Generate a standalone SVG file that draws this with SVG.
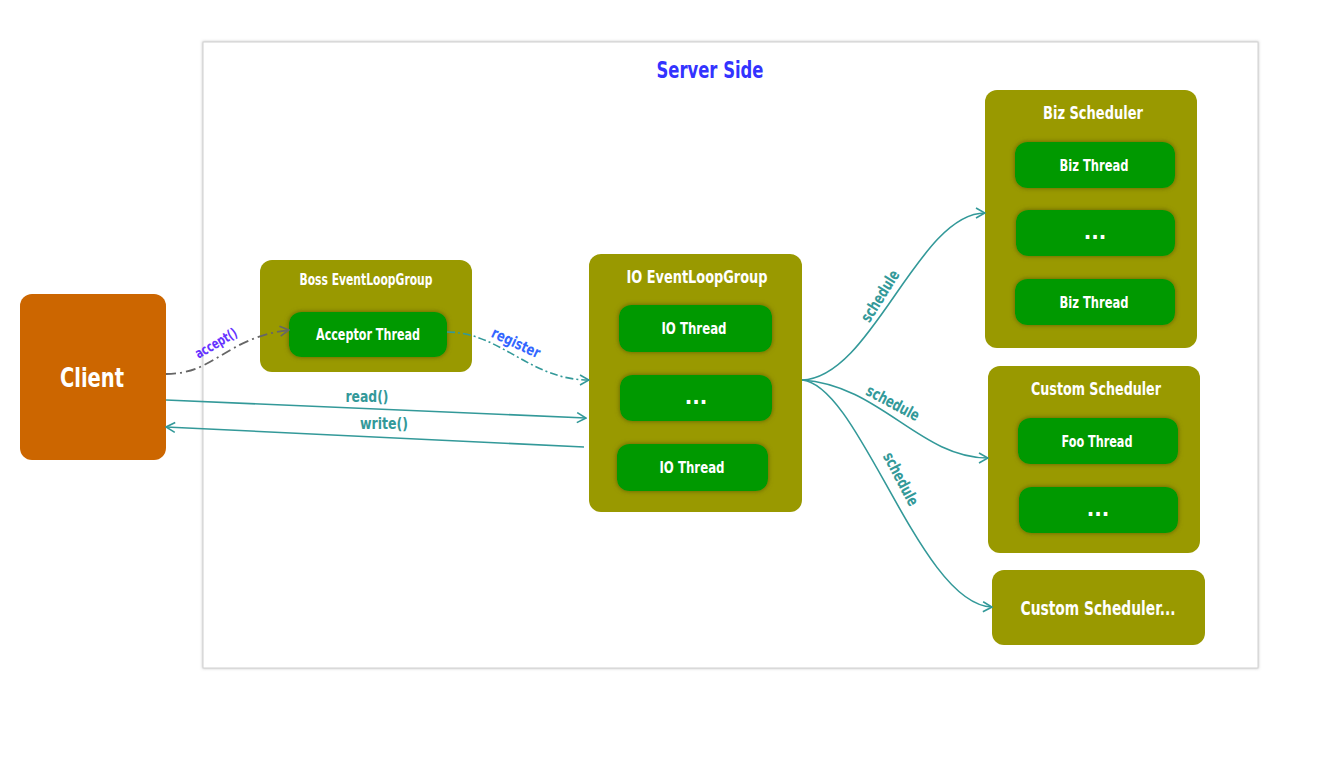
<svg xmlns="http://www.w3.org/2000/svg" width="1340" height="779" viewBox="0 0 1340 779">
<defs>
<style>
text{font-family:"DejaVu Sans Condensed","Liberation Sans",sans-serif;font-weight:bold;text-anchor:middle;dominant-baseline:central}
.grp{fill:#999900}
.thr{fill:#009900;filter:url(#inner)}
.wt{fill:#ffffff}
.t14{font-size:15px}
.t15{font-size:16px}
.t16{font-size:17px}
.lbl{fill:#339999;font-size:16px}
.con{fill:none;stroke:#339999;stroke-width:1.6}
.dots{font-size:22px}
</style>
<filter id="inner" x="-10%" y="-20%" width="120%" height="140%">
<feGaussianBlur in="SourceAlpha" stdDeviation="2.5" result="b"/>
<feFlood flood-color="#5f5f00" result="f"/>
<feComposite in="f" in2="b" operator="in" result="s"/>
<feMerge><feMergeNode in="s"/><feMergeNode in="SourceGraphic"/></feMerge>
</filter>
<filter id="frame" x="-2%" y="-2%" width="104%" height="104%">
<feGaussianBlur in="SourceAlpha" stdDeviation="1.5" result="b"/>
<feFlood flood-color="#999999" flood-opacity="0.6" result="f"/>
<feComposite in="f" in2="b" operator="in" result="s"/>
<feMerge><feMergeNode in="s"/><feMergeNode in="SourceGraphic"/></feMerge>
</filter>
<marker id="arT" viewBox="0 0 12 12" refX="11" refY="6" markerWidth="12" markerHeight="12" markerUnits="userSpaceOnUse" orient="auto">
<path d="M2,1 L11,6 L2,11" fill="none" stroke="#339999" stroke-width="1.6"/>
</marker>
<marker id="arG" viewBox="0 0 12 12" refX="11" refY="6" markerWidth="12" markerHeight="12" markerUnits="userSpaceOnUse" orient="auto">
<path d="M2,1 L11,6 L2,11" fill="none" stroke="#666666" stroke-width="1.6"/>
</marker>
</defs>
<rect width="1340" height="779" fill="#ffffff"/>
<g id="server-side">
<rect x="203" y="42" width="1055" height="626" fill="#ffffff" stroke="#d0d0d0" stroke-width="1" filter="url(#frame)"/>
<text x="710" y="70" style="font-size:23px;fill:#3333ff" textLength="107" lengthAdjust="spacingAndGlyphs">Server Side</text>
</g>
<g id="client">
<rect x="20" y="294" width="146" height="166" rx="12" fill="#cc6600"/>
<text x="92" y="377" class="wt" style="font-size:27px" textLength="64" lengthAdjust="spacingAndGlyphs">Client</text>
</g>
<g id="boss">
<rect class="grp" x="260" y="260" width="212" height="112" rx="12"/>
<text x="366" y="280" class="wt t14" textLength="133" lengthAdjust="spacingAndGlyphs">Boss EventLoopGroup</text>
<g id="acceptor">
<rect class="thr" x="289" y="312" width="158" height="45" rx="12"/>
<text x="368" y="334" class="wt t15" textLength="104" lengthAdjust="spacingAndGlyphs">Acceptor Thread</text>
</g>
</g>
<g id="io">
<rect class="grp" x="589" y="254" width="213" height="258" rx="12"/>
<text x="697" y="277" class="wt t16" textLength="141" lengthAdjust="spacingAndGlyphs">IO EventLoopGroup</text>
<g id="io1"><rect class="thr" x="619" y="305" width="153" height="47" rx="12"/><text x="694" y="328" class="wt t15" textLength="65" lengthAdjust="spacingAndGlyphs">IO Thread</text></g>
<g id="io2"><rect class="thr" x="620" y="375" width="152" height="46" rx="12"/><text x="696" y="396" class="wt dots">...</text></g>
<g id="io3"><rect class="thr" x="617" y="444" width="151" height="47" rx="12"/><text x="692" y="467" class="wt t15" textLength="65" lengthAdjust="spacingAndGlyphs">IO Thread</text></g>
</g>
<g id="biz">
<rect class="grp" x="985" y="90" width="212" height="258" rx="12"/>
<text x="1093" y="113" class="wt t16" textLength="100" lengthAdjust="spacingAndGlyphs">Biz Scheduler</text>
<g id="biz1"><rect class="thr" x="1015" y="142" width="160" height="46" rx="12"/><text x="1094" y="165" class="wt t15" textLength="69" lengthAdjust="spacingAndGlyphs">Biz Thread</text></g>
<g id="biz2"><rect class="thr" x="1016" y="210" width="159" height="46" rx="12"/><text x="1095" y="231" class="wt dots">...</text></g>
<g id="biz3"><rect class="thr" x="1015" y="279" width="160" height="46" rx="12"/><text x="1094" y="302" class="wt t15" textLength="69" lengthAdjust="spacingAndGlyphs">Biz Thread</text></g>
</g>
<g id="custom">
<rect class="grp" x="988" y="366" width="212" height="187" rx="12"/>
<text x="1096" y="389" class="wt t16" textLength="130" lengthAdjust="spacingAndGlyphs">Custom Scheduler</text>
<g id="foo1"><rect class="thr" x="1018" y="418" width="160" height="46" rx="12"/><text x="1097" y="441" class="wt t15" textLength="71" lengthAdjust="spacingAndGlyphs">Foo Thread</text></g>
<g id="foo2"><rect class="thr" x="1019" y="487" width="159" height="46" rx="12"/><text x="1098" y="508" class="wt dots">...</text></g>
</g>
<g id="custom-more">
<rect class="grp" x="992" y="570" width="213" height="75" rx="12"/>
<text x="1098" y="608" class="wt" style="font-size:19px" textLength="155" lengthAdjust="spacingAndGlyphs">Custom Scheduler...</text>
</g>
<g id="connectors">
<path d="M166,374 C215,374 225,338 289,330" fill="none" stroke="#666666" stroke-width="1.8" stroke-dasharray="10,4,2,4" marker-end="url(#arG)"/>
<text x="216" y="343" transform="rotate(-30 216 343)" style="font-size:14px;fill:#6633ff" textLength="46" lengthAdjust="spacingAndGlyphs">accept()</text>
<path d="M447,332 C500,332 530,380 589,380" class="con" stroke-dasharray="8,3,2,3" marker-end="url(#arT)"/>
<text x="516" y="343" transform="rotate(25 516 343)" style="font-size:15px;fill:#3366ff" textLength="52" lengthAdjust="spacingAndGlyphs">register</text>
<path d="M166,400 L586,418" class="con" marker-end="url(#arT)"/>
<text x="367" y="396" class="lbl" textLength="43" lengthAdjust="spacingAndGlyphs">read()</text>
<path d="M584,447 L166,427" class="con" marker-end="url(#arT)"/>
<text x="384" y="423" class="lbl" textLength="48" lengthAdjust="spacingAndGlyphs">write()</text>
<path d="M802,380 C872,378 918,213 985,213" class="con" marker-end="url(#arT)"/>
<text x="880" y="296" transform="rotate(-58 880 296)" class="lbl" textLength="58" lengthAdjust="spacingAndGlyphs">schedule</text>
<path d="M802,380 C880,385 920,458 988,458" class="con" marker-end="url(#arT)"/>
<text x="893" y="403" transform="rotate(28 893 403)" class="lbl" textLength="58" lengthAdjust="spacingAndGlyphs">schedule</text>
<path d="M802,380 C860,385 920,605 992,607" class="con" marker-end="url(#arT)"/>
<text x="901" y="479" transform="rotate(62 901 479)" class="lbl" textLength="58" lengthAdjust="spacingAndGlyphs">schedule</text>
</g>
</svg>
